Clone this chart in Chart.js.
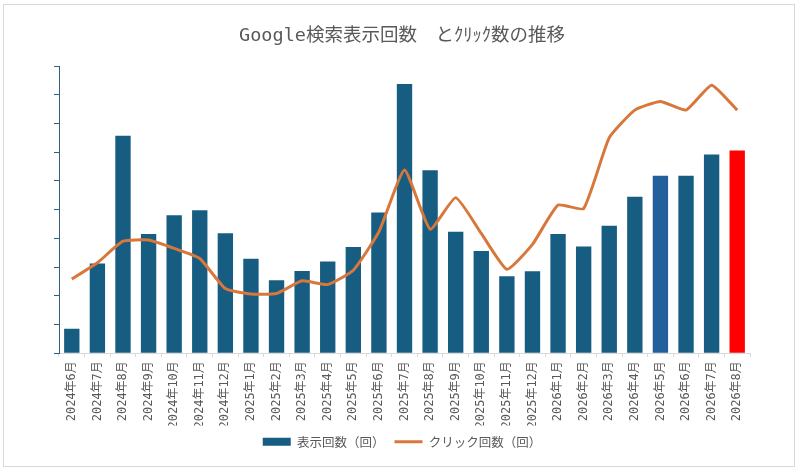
<!DOCTYPE html>
<html lang="ja">
<head>
<meta charset="utf-8">
<script src="https://cdn.jsdelivr.net/npm/chart.js@4.4.1/dist/chart.umd.min.js"></script>
<style>
  html, body { margin: 0; padding: 0; background: #fff; }
  #wrap { position: relative; width: 800px; height: 473px; }
  #frame { position: absolute; left: 3px; top: 4px; width: 790px; height: 461px; border: 1px solid #d9d9d9; pointer-events: none; }
  canvas { position: absolute; left: 0; top: 0; }
</style>
</head>
<body>
<div id="wrap">
  <canvas id="trendChart" width="800" height="473"></canvas>
  <div id="frame"></div>
</div>
<script>
// 月ラベル
const months = [
    '2024年6月', '2024年7月', '2024年8月', '2024年9月', '2024年10月', '2024年11月', '2024年12月',
    '2025年1月', '2025年2月', '2025年3月', '2025年4月', '2025年5月', '2025年6月', '2025年7月',
    '2025年8月', '2025年9月', '2025年10月', '2025年11月', '2025年12月',
    '2026年1月', '2026年2月', '2026年3月', '2026年4月', '2026年5月', '2026年6月', '2026年7月', '2026年8月'
];

// 表示回数（目盛なしのため相対値）
const impressions = [
    0.85, 3.12, 7.58, 4.15, 4.81, 4.98, 4.18,
    3.29, 2.54, 2.86, 3.19, 3.70, 4.90, 9.38,
    6.37, 4.23, 3.56, 2.68, 2.85,
    4.15, 3.72, 4.44, 5.45, 6.18, 6.18, 6.92, 7.06
];

// クリック回数
const clicks = [
    2.58, 3.15, 3.90, 3.94, 3.65, 3.30, 2.25,
    2.06, 2.08, 2.52, 2.39, 2.89, 4.23, 6.38,
    4.32, 5.42, 4.17, 2.92, 3.79,
    5.16, 5.04, 7.51, 8.47, 8.77, 8.47, 9.34, 8.47
];

const yTicks = [0, 1, 2, 3, 4, 5, 6, 7, 8, 9, 10];

// bar colours: 2026年5月 is a lighter blue, the last month red
const barColors = months.map((m) => {
    if (m === '2026年8月') return '#ff0000';
    if (m === '2026年5月') return '#225f9c';
    return '#175d82';
});

const ctx = document.getElementById('trendChart').getContext('2d');

const myChart = new Chart(ctx, {
    type: 'bar',
    data: {
        labels: months,
        datasets: [{
            type: 'line',
            label: 'クリック回数（回）',
            data: clicks,
            borderColor: '#d8773b',
            backgroundColor: '#d8773b',
            borderWidth: 3,
            tension: 0.15,
            pointRadius: 0,
            pointStyle: 'line',
            order: 0
        }, {
            label: '表示回数（回）',
            data: impressions,
            backgroundColor: barColors,
            borderWidth: 0,
            barPercentage: 0.6,
            categoryPercentage: 1,
            pointStyle: 'rect',
            order: 1
        }]
    },
    options: {
        responsive: false,
        animation: false,
        layout: { padding: { left: 54, right: 50, top: 0, bottom: 15 } },
        plugins: {
            title: {
                display: true,
                text: 'Google検索表示回数　とｸﾘｯｸ数の推移',
                color: '#595959',
                font: { family: "'DejaVu Sans Mono', 'Noto Sans CJK JP', monospace", size: 18.5, weight: 'normal' },
                padding: { top: 25, bottom: 19 }
            },
            legend: {
                position: 'bottom',
                reverse: true,
                labels: {
                    usePointStyle: true,
                    pointStyleWidth: 28,
                    boxHeight: 8,
                    color: '#595959',
                    padding: 10,
                    font: { family: "'Noto Sans CJK JP', sans-serif", size: 12.5 }
                }
            },
            tooltip: { enabled: false }
        },
        scales: {
            x: {
                // labels may run into the legend band, as in the reference
                afterFit: (axis) => { axis.height -= 7; },
                grid: { drawOnChartArea: false, color: '#d9d9d9', tickLength: 4 },
                border: { color: '#d9d9d9' },
                ticks: {
                    color: '#595959',
                    minRotation: 90,
                    maxRotation: 90,
                    padding: 4,
                    autoSkip: false,
                    font: { family: "'DejaVu Sans Mono', 'Noto Sans CJK JP', monospace", size: 12 }
                }
            },
            y: {
                min: yTicks[0],
                max: yTicks[yTicks.length - 1],
                afterBuildTicks: (axis) => { axis.ticks = yTicks.map((v) => ({ value: v })); },
                grid: { drawOnChartArea: false, color: '#2a6283', tickLength: 5 },
                border: { color: '#2a6283' },
                ticks: { display: false }
            }
        }
    }
});
</script>
</body>
</html>
